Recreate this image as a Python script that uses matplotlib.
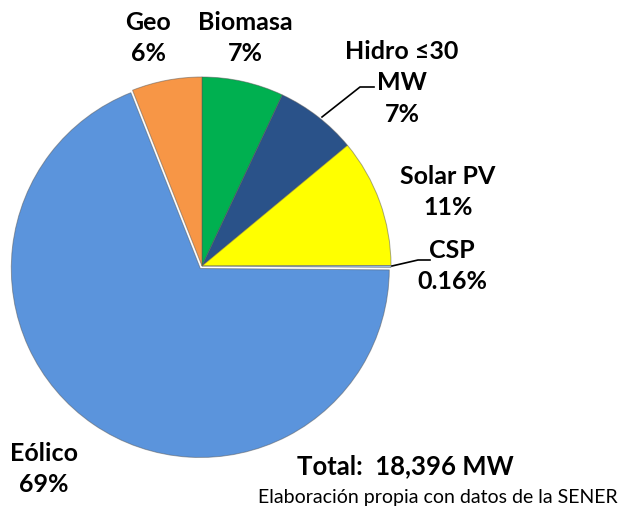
import matplotlib.pyplot as plt

# Data
labels = ["Biomasa", "Hidro ≤30\nMW", "Solar PV", "CSP", "Eólico", "Geo"]
shares = [7, 7, 11, 0.16, 69, 6]
pct_text = ["7%", "7%", "11%", "0.16%", "69%", "6%"]
colors = ["#00B050", "#2A5289", "#FFFF00", "#9CC3EE", "#5B94DC", "#F79646"]

plt.rcParams['font.family'] = ['Lato', 'DejaVu Sans']

fig = plt.figure(figsize=(6.21, 5.10), dpi=100)
ax = fig.add_axes([0, 0, 1, 1])

# explode is in data units here (pixels), only the Eólico slice is pulled out a bit
ax.pie(shares, colors=colors, startangle=90, counterclock=False,
       center=(202, 243), radius=189, explode=[0, 0, 0, 0, 3, 0], frame=True,
       wedgeprops=dict(edgecolor="#55555580", linewidth=0.7))
ax.set_xlim(0, 621)
ax.set_ylim(0, 510)
ax.set_aspect('equal')
ax.axis('off')

# Labels placed as in the original (pixel coords, y from bottom)
label_pos = [(245, 472), (402, 427), (448, 318), (452, 244), (44, 41), (148, 472)]
for lab, pct, (x, y) in zip(labels, pct_text, label_pos):
    ax.text(x, y, lab + "\n" + pct, ha='center', va='center', fontsize=18,
            fontweight='bold', linespacing=1.45, color='black')

# Leader lines
ax.plot([322, 360, 374], [392, 422, 422], color='black', lw=1.2)
ax.plot([392, 418, 430], [243, 249, 249], color='black', lw=1.2)

ax.text(405, 44, "Total:  18,396 MW", ha='center', va='center',
        fontsize=18.5, fontweight='bold')
ax.text(438, 12, "Elaboración propia con datos de la SENER", ha='center',
        va='center', fontsize=14)

fig.savefig("out.png", dpi=100)
